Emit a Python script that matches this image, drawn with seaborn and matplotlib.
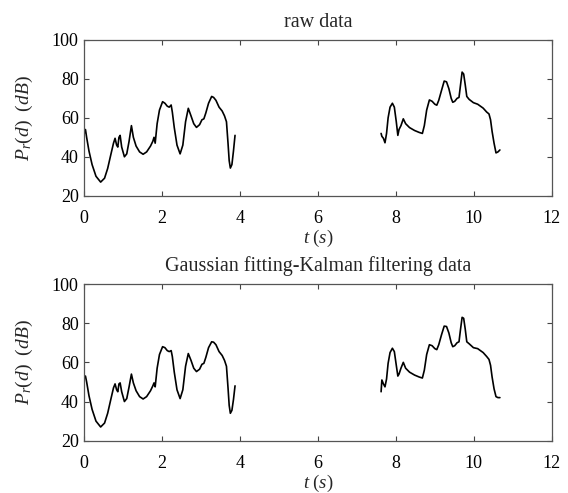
import matplotlib
matplotlib.use("Agg")
import matplotlib.pyplot as plt
import seaborn as sns
import pandas as pd

# ---- data ----
seg1_t = [0.00, 0.03, 0.06, 0.12, 0.20, 0.30, 0.42, 0.52, 0.60, 0.68, 0.75, 0.79, 0.83, 0.86, 0.89,
          0.92, 0.96, 1.03, 1.09, 1.15, 1.21, 1.26, 1.33, 1.42, 1.51, 1.60, 1.70, 1.76, 1.79, 1.82,
          1.87, 1.93, 2.01, 2.07, 2.13, 2.18, 2.23, 2.26, 2.31, 2.38, 2.46, 2.53, 2.60, 2.67, 2.74,
          2.81, 2.88, 2.96, 3.02, 3.07, 3.12, 3.19, 3.27, 3.32, 3.38, 3.46, 3.54, 3.60, 3.65, 3.69,
          3.72, 3.75, 3.79, 3.83, 3.87]
seg1_raw = [52, 54, 50, 43, 36, 30, 27, 29, 34, 41, 47, 49.5, 46, 45, 50,
            51, 45, 40, 41.5, 48, 56, 50, 45.5, 42.5, 41.3, 42.5, 45.5, 48, 50, 47,
            57, 64, 68.3, 67.5, 66, 65.5, 66.6, 63, 55, 46, 41.5, 46, 58, 64.9, 61,
            57, 55.1, 56.5, 59, 59.5, 62.5, 67.5, 71, 70.5, 69, 65.5, 63.5, 61, 58, 47,
            38, 34.2, 36, 43, 51]
seg1_filt = [52.5, 53, 50, 43, 36, 30, 27, 29, 34, 41, 47, 49, 46, 45, 49,
             49.5, 45, 40, 41.5, 47.5, 54, 49.5, 45.5, 42.5, 41.3, 42.5, 45.5, 48, 49.5, 47.5,
             57, 64, 68, 67.5, 66, 65.5, 66, 63, 55, 46, 41.5, 46, 58, 64.5, 61,
             57, 55.3, 56.5, 59, 59.5, 62.5, 67.5, 70.5, 70.3, 69, 65.5, 63.5, 61, 58, 47,
             38, 34, 35.5, 41, 48]

seg2_t = [7.62, 7.64, 7.68, 7.72, 7.76, 7.80, 7.85, 7.91, 7.96, 8.01, 8.05, 8.08, 8.13, 8.19, 8.25,
          8.35, 8.48, 8.60, 8.68, 8.73, 8.79, 8.86, 8.93, 9.00, 9.05, 9.10, 9.17, 9.24, 9.30, 9.36,
          9.42, 9.46, 9.51, 9.57, 9.62, 9.66, 9.70, 9.74, 9.78, 9.82, 9.88, 9.99, 10.10, 10.24, 10.33,
          10.39, 10.43, 10.47, 10.52, 10.57, 10.62, 10.67]
seg2_raw = [52, 50.5, 49.5, 47.2, 52, 60, 65.5, 67.5, 65.5, 58, 51, 54, 56, 59.5, 57,
            55, 53.5, 52.5, 52, 56, 64, 69.2, 68.5, 67, 66.5, 69, 74, 78.9, 78.5, 75,
            70, 68, 68.5, 70, 70.5, 77, 83.5, 82.5, 77, 71, 69.5, 67.8, 67, 65, 63,
            62, 59, 53, 47, 42, 42.5, 43.5]
seg2_filt = [45, 51, 49, 47.5, 51.5, 59.5, 65, 67.2, 65.5, 58.5, 53, 54, 57, 60, 57,
             55, 53.5, 52.5, 52, 56, 64, 69, 68.5, 67, 66.5, 69, 74, 78.5, 78.3, 75,
             70, 68, 68.5, 70, 70.5, 77, 83, 82.5, 77, 70.5, 69.5, 67.5, 67, 65, 63,
             61.5, 58.5, 52.5, 46.5, 42.5, 42, 42]

titles = ["raw data", "Gaussian fitting-Kalman filtering data"]
x_ticks = [0, 2, 4, 6, 8, 10, 12]
y_ticks = [20, 40, 60, 80, 100]
x_label = r"$t\ (s)$"
y_label = r"$P_r(d)\ \ (dB)$"


def make_df(v1, v2):
    return pd.concat([
        pd.DataFrame({"t": seg1_t, "v": v1, "seg": 1}),
        pd.DataFrame({"t": seg2_t, "v": v2, "seg": 2}),
    ], ignore_index=True)


panels = [make_df(seg1_raw, seg2_raw), make_df(seg1_filt, seg2_filt)]

sns.set_style("white")
plt.rcParams["font.family"] = ["Liberation Serif", "DejaVu Serif"]
plt.rcParams["mathtext.fontset"] = "custom"
plt.rcParams["mathtext.rm"] = "Liberation Serif"
plt.rcParams["mathtext.it"] = "Liberation Serif:italic"
plt.rcParams["mathtext.bf"] = "Liberation Serif:bold"

fig = plt.figure(figsize=(5.68, 4.93), dpi=100)
rects = [[0.1484, 0.603, 0.8229, 0.3159], [0.1484, 0.1061, 0.8229, 0.3178]]

for rect, df, title in zip(rects, panels, titles):
    ax = fig.add_axes(rect)
    sns.lineplot(data=df, x="t", y="v", units="seg", estimator=None, sort=False,
                 color="black", linewidth=1.2, ax=ax, legend=False)
    ax.set_xlim(0, 12)
    ax.set_ylim(20, 100)
    ax.set_xticks(x_ticks)
    ax.set_yticks(y_ticks)
    ax.set_xticklabels([str(v) for v in x_ticks])
    ax.set_yticklabels([str(v) for v in y_ticks])
    ax.tick_params(axis="both", which="both", direction="in", length=3.5, width=0.8,
                   top=True, right=True, bottom=True, left=True, colors="#444444",
                   labelcolor="black", labelsize=13)
    ax.tick_params(axis="x", pad=10)
    ax.tick_params(axis="y", pad=4)
    for s in ax.spines.values():
        s.set_color("#555555")
        s.set_linewidth(0.9)
    ax.set_title(title, fontsize=14.5, pad=9.5)
    ax.set_xlabel(x_label, fontsize=13.5, labelpad=1)
    ax.set_ylabel(y_label, fontsize=14, labelpad=12)

fig.savefig("out.png", dpi=100)
